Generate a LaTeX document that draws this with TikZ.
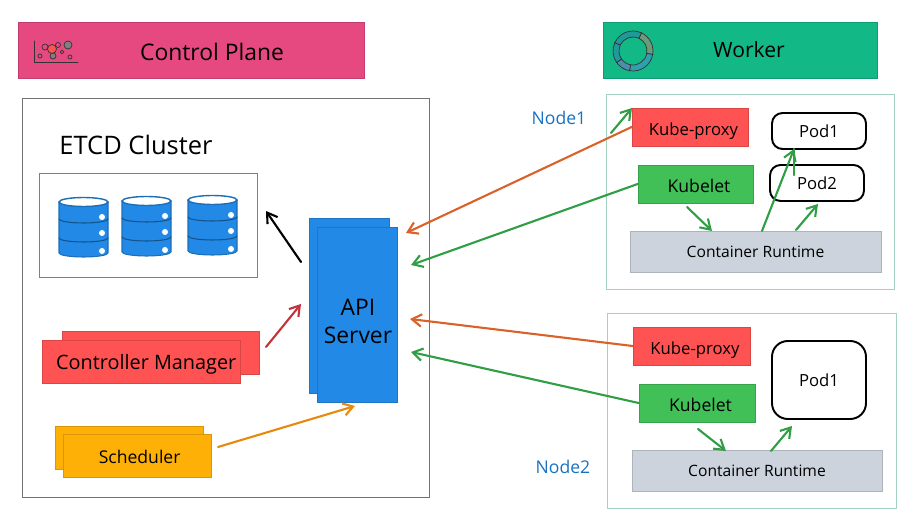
\documentclass[tikz,border=0pt]{standalone}
\usepackage{fontspec}
\setmainfont{Open Sans}
\usetikzlibrary{arrows.meta}
\definecolor{pinkbar}{HTML}{E64980}
\definecolor{greenbar}{HTML}{12B886}
\definecolor{redbox}{HTML}{FF5252}
\definecolor{greenbox}{HTML}{40C057}
\definecolor{amberbox}{HTML}{FFB007}
\definecolor{bluebox}{HTML}{228AE6}
\definecolor{greybox}{HTML}{CCD3DC}
\definecolor{nodeblue}{HTML}{1971C2}
\definecolor{nodeframe}{HTML}{A3D3C0}
\definecolor{arrowgreen}{HTML}{2F9E44}
\definecolor{arroworange}{HTML}{D9622B}
\definecolor{arrowamber}{HTML}{E8890C}
\definecolor{arrowred}{HTML}{C0343A}
\definecolor{ringolive}{HTML}{6B9B78}
\definecolor{ringteal}{HTML}{1F9A9A}
\definecolor{ringblue}{HTML}{4A8FB0}
\definecolor{ringcyan}{HTML}{2FA0B0}
\tikzset{
	frame/.style={draw=#1,line width=.55pt,inner sep=0pt},
	block/.style={draw=#1!85!black,fill=#1,line width=.4pt,inner sep=0pt,text=black},
	lowtext/.style={text height=10pt,text depth=.4pt},
	pod/.style={draw=black,fill=white,line width=1.1pt,rounded corners=6pt,inner sep=0pt},
	link/.style={->,line width=1.2pt,draw=#1},
	dbcyl/.pic={
		\fill[bluebox] (0,5)--(0,56) arc (180:0:24.5 and 4)--(49,5)--cycle;
		\draw[bluebox!80!black,line width=.6pt] (0,5)--(0,56) (49,5)--(49,56) (0,56) arc (180:0:24.5 and 4);
		\foreach \y in {22,41}{\draw[bluebox!60!black,line width=.6pt] (0,\y) arc (180:0:24.5 and 4);}
		\draw[bluebox!80!black,fill=white,line width=.8pt] (24.5,5) ellipse (24.5 and 4.5);
		\foreach \y in {20,36,54}{\fill[white] (43,\y) circle (3);}
	}
}
\begin{document}
\begin{tikzpicture}[>={Straight Barb[length=5.5pt,width=7pt]},line cap=round,x=.02cm,y=-.02cm]
	\useasboundingbox (0,0) rectangle (920,530);
	% title bars
	\node[block=pinkbar,minimum width=6.92cm,minimum height=1.12cm] (controlbar) at (191,50) {};
	\node[font=\fontsize{13}{15}\selectfont] (controltitle) at (212,52) {Control Plane};
	\node[block=greenbar,minimum width=5.48cm,minimum height=1.12cm] (workerbar) at (740,50) {};
	\node[font=\fontsize{12}{14}\selectfont] (workertitle) at (749,50) {Worker};
	% chart icon
	\draw[black!80,line width=.5pt] (34,41)--(34,62)--(78,62);
	\foreach \x/\y/\r/\c in {40/56/2/none,45/47/3/none,52/49/4.5/redbox,53/56/3/gray,62/52/1.8/none,58/45/2.5/none,68/45/4/gray,70/57/2/none}{
		\draw[black!80,line width=.4pt,fill=\c] (\x,\y) circle (\r);}
	% ring icon
	\foreach \a/\b/\c in {-65/10/ringolive,10/100/ringcyan,100/145/ringblue,145/205/ringteal,205/295/ringteal}{
		\draw[black!80,line width=.4pt,fill=\c,shift={(633,51)}] (\a:20) arc (\a:\b:20)--(\b:14) arc (\b:\a:14)--cycle;}
	% control plane
	\node[frame=black!55,minimum width=8.16cm,minimum height=8cm] (controlbox) at (226,298) {};
	\node[font=\fontsize{14.5}{16}\selectfont] (etcdtitle) at (136,145) {ETCD Cluster};
	\node[frame=black!50,minimum width=4.38cm,minimum height=2.08cm] (etcdbox) at (148.5,225) {};
	\foreach \x/\y in {59/197,122/196,188/195}{\pic at (\x,\y) {dbcyl};}
	\node[block=bluebox,minimum width=1.6cm,minimum height=3.5cm] (apiback) at (349,305.5) {};
	\node[block=bluebox,minimum width=1.6cm,minimum height=3.5cm] (api) at (357,314.5) {};
	\node[align=center,font=\fontsize{13}{16}\selectfont] (apititle) at (358,321) {API\\Server};
	\node[block=redbox,minimum width=3.94cm,minimum height=.86cm] (managerback) at (160.5,352.5) {};
	\node[block=redbox,lowtext,minimum width=3.96cm,minimum height=.86cm,font=\fontsize{11.3}{13}\selectfont] (manager) at (141,361.5) {\hspace*{6pt}Controller Manager};
	\node[block=amberbox,minimum width=2.96cm,minimum height=.86cm] (schedulerback) at (129,447.5) {};
	\node[block=amberbox,lowtext,minimum width=2.96cm,minimum height=.86cm,font=\fontsize{10}{12}\selectfont] (scheduler) at (137,455.5) {\hspace*{3pt}Scheduler};
	% node 1
	\node[frame=nodeframe,minimum width=5.78cm,minimum height=3.92cm] (nodeonebox) at (750.5,192) {};
	\node[text=nodeblue,font=\fontsize{10}{12}\selectfont] (nodeonelabel) at (559,118) {Node1};
	\node[block=redbox,lowtext,minimum width=2.32cm,minimum height=.76cm,font=\fontsize{9.5}{11}\selectfont] (proxyone) at (690,127) {\hspace*{4pt}Kube-proxy};
	\node[block=greenbox,lowtext,minimum width=2.3cm,minimum height=.76cm,font=\fontsize{10}{11}\selectfont] (kubeletone) at (695.5,184) {\hspace*{4pt}Kubelet};
	\node[block=greybox,minimum width=5.02cm,minimum height=.82cm,font=\fontsize{8.9}{10}\selectfont] (runtimeone) at (755.5,251.5) {Container Runtime};
	\node[pod,minimum width=1.88cm,minimum height=.72cm,font=\fontsize{9.5}{11}\selectfont] (podone) at (819,131) {Pod1};
	\node[pod,minimum width=1.88cm,minimum height=.72cm,font=\fontsize{9.5}{11}\selectfont] (podtwo) at (817,183) {Pod2};
	% node 2
	\node[frame=nodeframe,minimum width=5.8cm,minimum height=3.92cm] (nodetwobox) at (752,411) {};
	\node[text=nodeblue,font=\fontsize{10}{12}\selectfont] (nodetwolabel) at (563,467) {Node2};
	\node[block=redbox,lowtext,minimum width=2.34cm,minimum height=.76cm,font=\fontsize{9.5}{11}\selectfont] (proxytwo) at (691.5,346) {\hspace*{4pt}Kube-proxy};
	\node[block=greenbox,lowtext,minimum width=2.32cm,minimum height=.76cm,font=\fontsize{10}{11}\selectfont] (kubelettwo) at (697,403) {\hspace*{4pt}Kubelet};
	\node[block=greybox,minimum width=5cm,minimum height=.82cm,font=\fontsize{8.9}{10}\selectfont] (runtimetwo) at (757,470.5) {Container Runtime};
	\node[pod,rounded corners=9pt,minimum width=1.88cm,minimum height=1.56cm,font=\fontsize{9.5}{11}\selectfont] (podthree) at (819,380) {Pod1};
	% free arrow ends
	\path (301,262) coordinate (apitail) (266,211) coordinate (etcdhead)
		(266,347) coordinate (managertail) (301,304) coordinate (apired)
		(218,447) coordinate (schedtail) (355,406) coordinate (apiamber)
		(406,233) coordinate (apiproxyone) (411,265) coordinate (apikubeone)
		(410,319) coordinate (apiproxytwo) (411,352) coordinate (apikubetwo)
		(611,133) coordinate (loopone) (632,108) coordinate (loophead)
		(687,207) coordinate (kubedownone) (698,429) coordinate (kubedowntwo)
		(726,451) coordinate (runtimeintwo) (712,231) coordinate (runtimeinone)
		(762,231) coordinate (runtimeout) (794,149) coordinate (podonein)
		(794,175) coordinate (podtwoup)
		(796,230) coordinate (runtimeouttwo) (818,204) coordinate (podtwoin)
		(771,451) coordinate (runtimeoutthree) (792,426) coordinate (podthreein);
	% connectors
	\draw[link=black] (apitail)--(etcdhead);
	\draw[link=arrowred] (managertail)--(apired);
	\draw[link=arrowamber] (schedtail)--(apiamber);
	\draw[link=arroworange] (proxyone.west)--(apiproxyone);
	\draw[link=arrowgreen] (kubeletone.west)--(apikubeone);
	\draw[link=arroworange] (proxytwo.west)--(apiproxytwo);
	\draw[link=arrowgreen] (kubelettwo.west)--(apikubetwo);
	\draw[link=arrowgreen] (loopone)--(loophead);
	\draw[link=arrowgreen] (kubedownone)--(runtimeinone);
	\draw[link=arrowgreen] (runtimeout)--(podonein);
	\draw[arrowgreen,line width=1.2pt] (podtwoup)--(podonein);
	\draw[link=arrowgreen] (runtimeouttwo)--(podtwoin);
	\draw[link=arrowgreen] (kubedowntwo)--(runtimeintwo);
	\draw[link=arrowgreen] (runtimeoutthree)--(podthreein);
\end{tikzpicture}
\end{document}
